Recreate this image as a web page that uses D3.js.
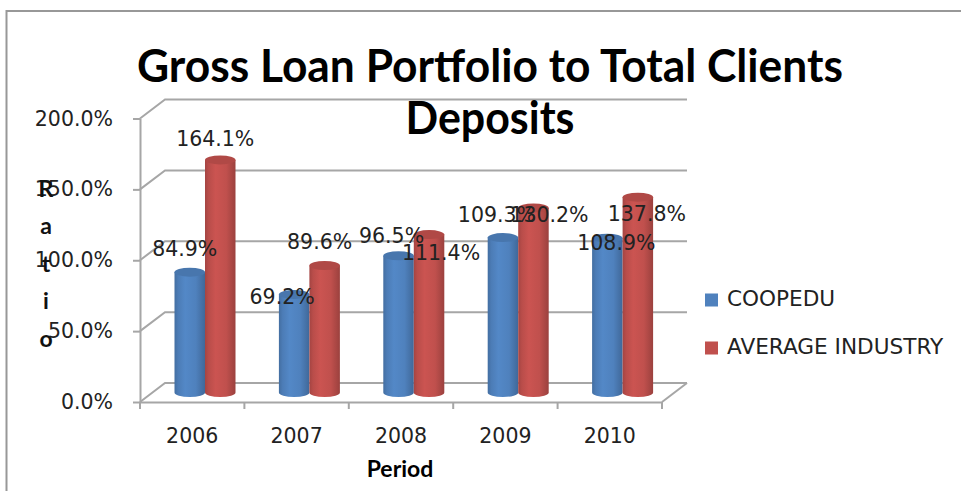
<!DOCTYPE html>
<html>
<head>
<meta charset="utf-8">
<script src="https://cdn.jsdelivr.net/npm/d3@7"></script>
<style>
  html, body { margin: 0; padding: 0; background: #fff; }
  svg { display: block; }
</style>
</head>
<body>
<svg id="chart" width="961" height="491"></svg>
<script>
// ---- data ----
const categories = ["2006", "2007", "2008", "2009", "2010"];
const seriesNames = ["COOPEDU", "AVERAGE INDUSTRY"];
const coopeduValues = [84.9, 69.2, 96.5, 109.3, 108.9];
const industryValues = [164.1, 89.6, 111.4, 130.2, 137.8];
const yTickValues = [0, 50, 100, 150, 200];
const titleLines = ["Gross Loan Portfolio to Total Clients", "Deposits"];
const xTitle = "Period";
const yTitle = "Ratio";

// ---- layout / styling ----
const colors = { "COOPEDU": "#4F81BD", "AVERAGE INDUSTRY": "#C0504D" };
const depth = { dx: 25, dy: -19 };
const mid = { dx: depth.dx / 2, dy: depth.dy / 2 };
// label nudges (px) relative to cylinder top centre, mimicking the original placement
const labelNudge = {
  "COOPEDU": [[-5, -22], [-12, 4], [-7, -19], [-6, -22], [9, 6]],
  "AVERAGE INDUSTRY": [[-5, -20], [-5, -22], [12, 19], [16, 8], [9, 18]]
};
const FONT = "'DejaVu Sans', sans-serif";
const BOLD = "Lato, 'Open Sans', sans-serif";

const svg = d3.select("#chart");

const seriesData = [
  { name: seriesNames[0], values: coopeduValues },
  { name: seriesNames[1], values: industryValues }
];

const y = d3.scaleLinear().domain([0, 200]).range([402, 118.5]);
const x0 = d3.scaleBand().domain(categories).range([140, 662]).padding(0);
const x1 = d3.scaleBand().domain(seriesNames).range([22, 83]).padding(0);

// border
svg.append("path")
  .attr("d", `M6.5,491 L6.5,11 L961,11`)
  .attr("fill", "none").attr("stroke", "#989898").attr("stroke-width", 2);

// gradients for cylinders
const defs = svg.append("defs");
function makeGrad(id, base) {
  const c = d3.color(base);
  const g = defs.append("linearGradient").attr("id", id)
    .attr("x1", "0%").attr("x2", "100%").attr("y1", "0%").attr("y2", "0%");
  g.append("stop").attr("offset", "0%").attr("stop-color", c.darker(0.45));
  g.append("stop").attr("offset", "12%").attr("stop-color", c.darker(0.1));
  g.append("stop").attr("offset", "35%").attr("stop-color", c.brighter(0.15));
  g.append("stop").attr("offset", "70%").attr("stop-color", c);
  g.append("stop").attr("offset", "100%").attr("stop-color", c.darker(0.6));
}
makeGrad("g0", colors["COOPEDU"]);
makeGrad("g1", colors["AVERAGE INDUSTRY"]);

// gridlines (diagonal on left wall + horizontal on back wall)
const x0Left = x0.range()[0];
const xRight = x0.range()[1];
const grid = svg.append("g").attr("stroke", "#a6a6a6").attr("stroke-width", 2).attr("fill", "none");
yTickValues.forEach(v => {
  const yf = y(v);
  grid.append("path")
    .attr("d", `M${x0Left},${yf} L${x0Left + depth.dx},${yf + depth.dy} L${xRight + depth.dx},${yf + depth.dy}`);
});
// floor right edge
grid.append("path")
  .attr("d", `M${xRight},${y(0)} L${xRight + depth.dx},${y(0) + depth.dy}`);

// y axis (front)
const yAxis = d3.axisLeft(y).tickValues(yTickValues).tickSize(7).tickSizeOuter(0).tickPadding(20)
  .tickFormat(d => d3.format(".1f")(d) + "%");
const gy = svg.append("g").attr("transform", `translate(${x0Left},0)`).call(yAxis);
gy.select(".domain").attr("stroke", "#a6a6a6").attr("stroke-width", 2);
gy.selectAll(".tick line").attr("stroke", "#a6a6a6").attr("stroke-width", 2);
gy.selectAll(".tick text").attr("font-family", FONT).attr("font-size", 20.5).attr("fill", "#222");

// x axis (front floor edge)
const xAxis = d3.axisBottom(x0).tickSize(0).tickPadding(0).tickSizeOuter(0);
const gx = svg.append("g").attr("transform", `translate(0,${y(0)})`).call(xAxis);
gx.select(".domain").attr("stroke", "#a6a6a6").attr("stroke-width", 2);
gx.selectAll(".tick text").attr("font-family", FONT).attr("font-size", 20.5).attr("fill", "#222")
  .attr("dy", null).attr("y", 35).attr("dominant-baseline", "middle");
// boundary ticks
const boundaries = categories.map(c => x0(c)).concat([x0.range()[1]]);
gx.selectAll(".btick").data(boundaries).enter().append("line")
  .attr("x1", d => d).attr("x2", d => d).attr("y1", 0).attr("y2", 7)
  .attr("stroke", "#a6a6a6").attr("stroke-width", 2);

// cylinders
const bars = svg.append("g");
const barW = x1.bandwidth();
const ry = 4.5;
categories.forEach((cat, i) => {
  seriesData.forEach((s, si) => {
    const v = s.values[i];
    const cx = x0(cat) + x1(s.name) + barW / 2 + mid.dx;
    const yTop = y(v) + mid.dy;
    const yBot = y(0) + mid.dy;
    const c = d3.color(colors[s.name]);
    const gcyl = bars.append("g");
    gcyl.append("path")
      .attr("d", `M${cx - barW / 2},${yTop} L${cx - barW / 2},${yBot} A${barW / 2},${ry} 0 0 0 ${cx + barW / 2},${yBot} L${cx + barW / 2},${yTop} Z`)
      .attr("fill", `url(#g${si})`);
    gcyl.append("ellipse")
      .attr("cx", cx).attr("cy", yTop).attr("rx", barW / 2).attr("ry", ry)
      .attr("fill", c.darker(0.25));
  });
});

// data labels
const labels = svg.append("g").attr("font-family", FONT).attr("font-size", 20.5).attr("fill", "#222");
categories.forEach((cat, i) => {
  seriesData.forEach(s => {
    const v = s.values[i];
    const cx = x0(cat) + x1(s.name) + barW / 2 + mid.dx;
    const yTop = y(v) + mid.dy;
    const n = labelNudge[s.name][i];
    labels.append("text")
      .attr("x", cx + n[0]).attr("y", yTop + n[1])
      .attr("text-anchor", "middle").attr("dominant-baseline", "middle")
      .text(d3.format(".1f")(v) + "%");
  });
});

// titles
svg.append("text").attr("x", 490).attr("y", 82).attr("text-anchor", "middle")
  .attr("font-family", BOLD).attr("font-weight", "bold").attr("font-size", 45).attr("fill", "#000")
  .attr("textLength", 706).attr("lengthAdjust", "spacingAndGlyphs")
  .text(titleLines[0]);
svg.append("text").attr("x", 490).attr("y", 134).attr("text-anchor", "middle")
  .attr("font-family", BOLD).attr("font-weight", "bold").attr("font-size", 45).attr("fill", "#000")
  .attr("textLength", 169).attr("lengthAdjust", "spacingAndGlyphs")
  .text(titleLines[1]);

// x axis title
svg.append("text").attr("x", 400).attr("y", 471).attr("text-anchor", "middle").attr("dominant-baseline", "middle")
  .attr("font-family", BOLD).attr("font-weight", "bold").attr("font-size", 23).attr("fill", "#000")
  .text(xTitle);

// y axis title, stacked letters
svg.append("g").selectAll("text").data(yTitle.split("")).enter().append("text")
  .attr("x", 46).attr("y", (d, i) => 191 + i * 37.5)
  .attr("text-anchor", "middle").attr("dominant-baseline", "middle")
  .attr("font-family", BOLD).attr("font-weight", "bold").attr("font-size", 23).attr("fill", "#111")
  .text(d => d);

// legend
const legend = svg.append("g").attr("transform", "translate(705,0)");
seriesNames.forEach((name, i) => {
  const ly = 300 + i * 48;
  legend.append("rect").attr("x", 0).attr("y", ly - 6.5).attr("width", 13).attr("height", 13)
    .attr("fill", colors[name]);
  legend.append("text").attr("x", 22).attr("y", ly).attr("dominant-baseline", "middle")
    .attr("font-family", FONT).attr("font-size", 21.6).attr("fill", "#222")
    .text(name);
});
</script>
</body>
</html>
